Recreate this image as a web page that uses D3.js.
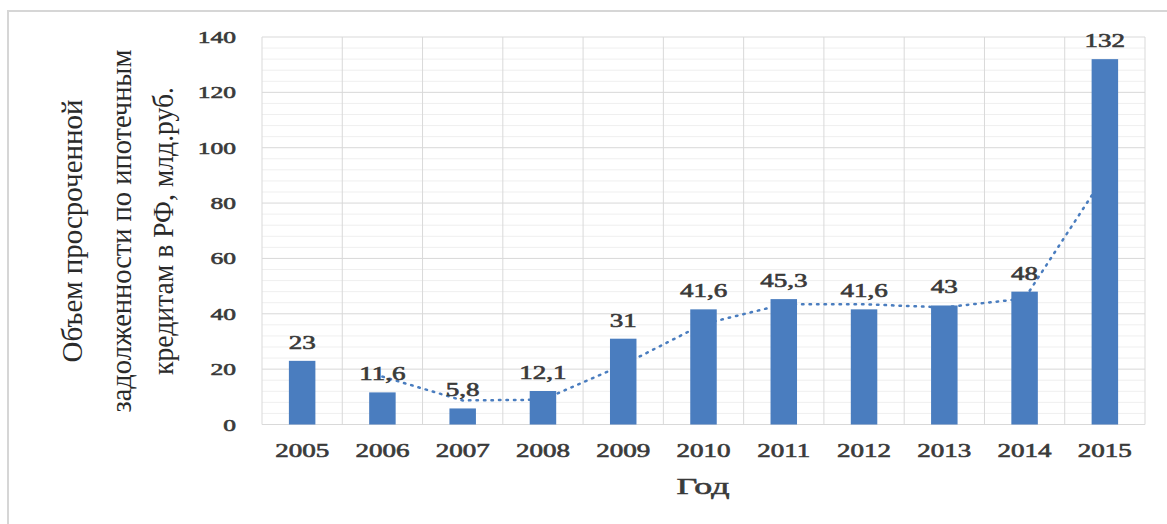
<!DOCTYPE html>
<html><head><meta charset="utf-8">
<script src="https://cdn.jsdelivr.net/npm/d3@7"></script>
<style>html,body{margin:0;padding:0;background:#fff;}svg{display:block;}</style>
</head><body>
<svg id="chart" width="1167" height="524"></svg>
<script>
const years = ["2005","2006","2007","2008","2009","2010","2011","2012","2013","2014","2015"];
const values = [23, 11.6, 5.8, 12.1, 31, 41.6, 45.3, 41.6, 43, 48, 132];
const valueLabels = ["23","11,6","5,8","12,1","31","41,6","45,3","41,6","43","48","132"];
// trend (2-period moving average line)
const trendYears = ["2006","2007","2008","2009","2010","2011","2012","2013","2014","2015"];
const trendValues = [17.3, 8.7, 8.95, 21.55, 36.3, 43.45, 43.45, 42.3, 45.5, 90];
const yTicks = [0, 20, 40, 60, 80, 100, 120, 140];
const yTitleLines = ["Объем просроченной", "задолженности по ипотечным", "кредитам в РФ, млд.руб."];
const xTitle = "Год";

const svg = d3.select("#chart");
const W = 1167, H = 524;
const plot = {left: 262, right: 1145, top: 37, bottom: 424.5};
const barColor = "#4a7dbf";
const textColor = "#3a3a3a";
const font = "'Liberation Serif','Times New Roman',serif";
const SX = 1.5;

// frame
svg.append("rect").attr("x", 8).attr("y", 11).attr("width", W + 20).attr("height", H + 20)
  .attr("fill", "none").attr("stroke", "#d6d6d6").attr("stroke-width", 2);

const x = d3.scaleBand().domain(years).range([plot.left, plot.right]).paddingInner(0).paddingOuter(0);
const y = d3.scaleLinear().domain([0, 140]).range([plot.bottom, plot.top]);

// minor gridlines
const minor = d3.range(0, 141, 4).filter(v => v % 20 !== 0);
svg.append("g").selectAll("line").data(minor).join("line")
  .attr("x1", plot.left).attr("x2", plot.right)
  .attr("y1", d => y(d)).attr("y2", d => y(d))
  .attr("stroke", "#efefef").attr("stroke-width", 1);
// major gridlines
svg.append("g").selectAll("line").data(yTicks).join("line")
  .attr("x1", plot.left).attr("x2", plot.right)
  .attr("y1", d => y(d)).attr("y2", d => y(d))
  .attr("stroke", "#d9d9d9").attr("stroke-width", 1);
// vertical category gridlines
const bounds = years.map(d => x(d)).concat([plot.right]);
svg.append("g").selectAll("line").data(bounds).join("line")
  .attr("x1", d => d).attr("x2", d => d)
  .attr("y1", plot.top).attr("y2", plot.bottom)
  .attr("stroke", "#d9d9d9").attr("stroke-width", 1);

function stretchedText(g, tx, ty, str, size, anchor) {
  const gg = g.append("g").attr("transform", `translate(${tx},${ty})`);
  gg.append("text").attr("transform", `scale(${SX},1)`)
    .attr("text-anchor", anchor).attr("font-family", font)
    .attr("font-size", size).attr("font-weight", "normal")
    .attr("fill", textColor).attr("stroke", textColor).attr("stroke-width", 0.6)
    .text(str);
  return gg;
}

// y axis tick labels
const yAxis = svg.append("g");
yTicks.forEach(t => stretchedText(yAxis, 236, y(t) + 6, String(t), 17, "end"));

// x axis tick labels
const xAxis = svg.append("g");
years.forEach(yr => stretchedText(xAxis, x(yr) + x.bandwidth() / 2, 457, yr, 18, "middle"));

// trend line (under bars)
const line = d3.line().x((d, i) => x(trendYears[i]) + x.bandwidth() / 2).y(d => y(d));
svg.append("path").datum(trendValues).attr("d", line)
  .attr("fill", "none").attr("stroke", barColor).attr("stroke-width", 2.5)
  .attr("stroke-dasharray", "1.5,6").attr("stroke-linecap", "round");

// bars
const bw = x.bandwidth() * 0.33;
svg.append("g").selectAll("rect").data(values).join("rect")
  .attr("x", (d, i) => x(years[i]) + x.bandwidth() / 2 - bw / 2)
  .attr("y", d => y(d)).attr("width", bw).attr("height", d => y(0) - y(d))
  .attr("fill", barColor);

// data labels
const labels = svg.append("g");
values.forEach((v, i) => stretchedText(labels, x(years[i]) + x.bandwidth() / 2, y(v) - 12, valueLabels[i], 18, "middle"));

// x title
stretchedText(svg, 703, 494, xTitle, 24, "middle");

// y title
const yTitleX = [72, 121, 163];
const yTitleLen = [263, 363, 288];
yTitleLines.forEach((s, i) => {
  svg.append("text")
    .attr("transform", `translate(${yTitleX[i]},231) rotate(-90)`)
    .attr("text-anchor", "middle").attr("dominant-baseline", "central")
    .attr("font-family", font).attr("font-size", 29)
    .attr("textLength", yTitleLen[i]).attr("lengthAdjust", "spacingAndGlyphs")
    .attr("fill", "#2a2a2a").text(s);
});
</script>
</body></html>
